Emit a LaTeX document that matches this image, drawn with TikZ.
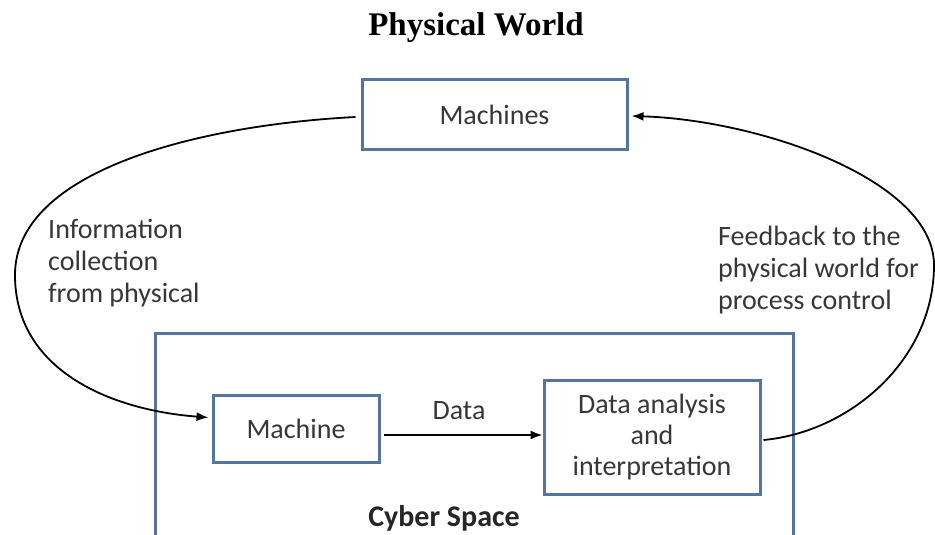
\documentclass[tikz,border=0pt]{standalone}
\usepackage{fontspec}
\setmainfont{Carlito}
\newfontfamily\titlefont{Liberation Serif}
\usetikzlibrary{arrows.meta,calc}
\definecolor{boxblue}{RGB}{84,118,158}
\definecolor{txtgray}{RGB}{55,55,55}
\begin{document}
\begin{tikzpicture}[x=1pt,y=-1pt,
  box/.style={draw=boxblue,line width=3pt,fill=white,inner sep=0pt,text=txtgray,font=\fontsize{28}{31}\selectfont,align=center},
  lbl/.style={text=txtgray,font=\fontsize{28}{32}\selectfont,align=left,inner sep=0pt},
  conn/.style={draw=black,line width=1.8pt,-{Latex[length=12pt,width=9pt]}}]
\clip (0,0) rectangle (935,535);
\useasboundingbox (0,0) rectangle (935,535);
\fill[white] (0,0) rectangle (935,535);
% cyber space frame
\node[draw=boxblue,line width=3pt,minimum width=638pt,minimum height=230pt,inner sep=0pt] (cyber) at (474,448) {};
\node[font=\titlefont\bfseries\fontsize{33}{36}\selectfont] (title) at (476,28) {Physical World};
\node[box,minimum width=265pt,minimum height=69pt] (machines) at (494.5,114.5) {Machines};
\node[box,minimum width=166pt,minimum height=67pt] (machine) at (296,428.5) {Machine};
\node[box,minimum width=216pt,minimum height=114pt] (analysis) at (652,437) {Data analysis\\and\\interpretation};
\node[font=\bfseries\fontsize{30}{34}\selectfont,text=black!85] (cslabel) at (444,518) {Cyber Space};
\node[lbl,anchor=west] (info) at (48,263) {Information\\collection\\from physical};
\node[lbl,anchor=west] (feed) at (718,270) {Feedback to the\\physical world for\\process control};
\node[lbl] (datalbl) at (459,411) {Data};
% connectors
\draw[conn] ($(machine.east)+(3,6.5)$) -- ($(analysis.west)+(0,-2)$);
\draw[conn] ($(machines.west)+(-5,2.5)$) .. controls (200,125) and (15,170) .. (15,275)
  .. controls (15,370) and (110,410) .. ($(machine.west)+(-3,-11)$);
\draw[conn] ($(analysis.east)+(2,3)$) .. controls (850,432) and (934,360) .. (934,265)
  .. controls (934,180) and (760,120) .. ($(machines.east)+(3,1.5)$);
\end{tikzpicture}
\end{document}
